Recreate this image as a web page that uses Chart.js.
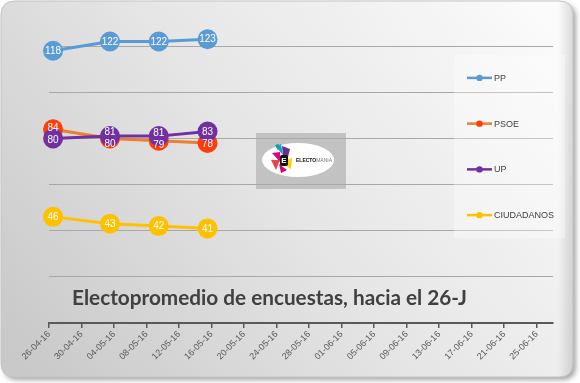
<!DOCTYPE html>
<html><head><meta charset="utf-8">
<script src="https://cdn.jsdelivr.net/npm/chart.js@4/dist/chart.umd.min.js"></script>
<style>html,body{margin:0;padding:0;background:#fff;overflow:hidden}canvas{display:block}</style>
</head><body>
<canvas id="c" width="580" height="383"></canvas>
<script>
// ---- data ----
const pollDates = ['26-04-16', '03-05-16', '09-05-16', '15-05-16'];
const seriesNames = ['PP', 'PSOE', 'UP', 'CIUDADANOS'];
const ppSeats = [118, 122, 122, 123];
const psoeSeats = [84, 80, 79, 78];
const upSeats = [80, 81, 81, 83];
const csSeats = [46, 43, 42, 41];
const tickDates = ['26-04-16','30-04-16','04-05-16','08-05-16','12-05-16','16-05-16','20-05-16','24-05-16',
                   '28-05-16','01-06-16','05-06-16','09-06-16','13-06-16','17-06-16','21-06-16','25-06-16'];
const axisStart = '26-04-16';
const axisEnd = '27-06-16';
const yTicks = [0, 20, 40, 60, 80, 100, 120, 140];
const chartTitle = 'Electopromedio de encuestas, hacia el 26-J';

// ---- helpers ----
const parseDate = s => { const [d, m, y] = s.split('-').map(Number); return Date.UTC(2000 + y, m - 1, d); };
const dayIndex = s => (parseDate(s) - parseDate(axisStart)) / 864e5;
// dates are plotted centred within their day (Excel "between tick marks")
const toPoints = vals => pollDates.map((d, i) => ({ x: dayIndex(d) + 0.5, y: vals[i] }));

const lineColors = ['#5B9BD5', '#ED7D31', '#7030A0', '#FFC000'];
const markColors = ['#5B9BD5', '#FF3D0A', '#7030A0', '#FFC000'];
const allVals = [ppSeats, psoeSeats, upSeats, csSeats];
const drawOrder = [1, 2, 0, 3];

function rr(ctx, x, y, w, h, r) {
  ctx.beginPath();
  ctx.moveTo(x + r, y); ctx.lineTo(x + w - r, y); ctx.quadraticCurveTo(x + w, y, x + w, y + r);
  ctx.lineTo(x + w, y + h - r); ctx.quadraticCurveTo(x + w, y + h, x + w - r, y + h);
  ctx.lineTo(x + r, y + h); ctx.quadraticCurveTo(x, y + h, x, y + h - r);
  ctx.lineTo(x, y + r); ctx.quadraticCurveTo(x, y, x + r, y); ctx.closePath();
}
function tri(ctx, pts, col) {
  ctx.beginPath(); ctx.moveTo(pts[0], pts[1]);
  for (let i = 2; i < pts.length; i += 2) ctx.lineTo(pts[i], pts[i + 1]);
  ctx.closePath(); ctx.fillStyle = col; ctx.fill();
}

const framePlugin = {
  id: 'frame',
  beforeDraw(chart) {
    const ctx = chart.ctx; ctx.save();
    ctx.fillStyle = '#ffffff'; ctx.fillRect(0, 0, chart.width, chart.height);
    ctx.shadowColor = 'rgba(0,0,0,0.35)'; ctx.shadowBlur = 5; ctx.shadowOffsetX = 3; ctx.shadowOffsetY = 3;
    rr(ctx, 1, 1, 572, 376, 14);
    const g = ctx.createLinearGradient(540, 0, 40, 383);
    g.addColorStop(0, '#fbfbfb'); g.addColorStop(0.5, '#e6e6e6'); g.addColorStop(1, '#c9c9c9');
    ctx.fillStyle = g; ctx.fill();
    ctx.shadowColor = 'transparent';
    ctx.save(); ctx.clip();
    const g2 = ctx.createLinearGradient(558, 0, 574, 0);
    g2.addColorStop(0, 'rgba(0,0,0,0)'); g2.addColorStop(1, 'rgba(0,0,0,0.14)');
    ctx.fillStyle = g2; ctx.fillRect(555, 0, 20, 383);
    ctx.restore();
    ctx.strokeStyle = '#c4c4c4'; ctx.lineWidth = 1; rr(ctx, 1, 1, 572, 376, 14); ctx.stroke();
    // logo picture
    ctx.fillStyle = '#c2c2c2'; ctx.fillRect(256, 133, 90, 56);
    ctx.beginPath(); ctx.ellipse(298, 160, 36, 17, 0, 0, Math.PI * 2); ctx.fillStyle = '#ffffff'; ctx.fill();
    tri(ctx, [276,147, 281,144, 283,155], '#1E9BD7');
    tri(ctx, [282,146, 290,149, 288,157, 283,155], '#6A2C91');
    tri(ctx, [272,153, 280,152, 280,162], '#E6007E');
    tri(ctx, [271,160, 280,160, 276,170], '#E8434B');
    tri(ctx, [279,164, 287,170, 281,173], '#D6006F');
    tri(ctx, [286,160, 292,158, 291,169, 286,166], '#FFD400');
    tri(ctx, [275,145, 279,144, 278,150], '#00A99D');
    ctx.fillStyle = '#111'; rr(ctx, 280, 155, 8, 11, 2); ctx.fill();
    ctx.fillStyle = '#fff'; ctx.font = 'bold 8px "Liberation Sans"'; ctx.textAlign = 'center'; ctx.textBaseline = 'middle';
    ctx.fillText('E', 284, 160.5);
    ctx.textAlign = 'left'; ctx.font = 'bold 5px "Liberation Sans"'; ctx.fillStyle = '#111';
    ctx.fillText('ELECTO', 296, 161);
    const w = ctx.measureText('ELECTO').width;
    ctx.font = '5px "Liberation Sans"'; ctx.fillStyle = '#777'; ctx.fillText('MANIA', 296 + w, 161);
    ctx.restore();
  }
};

const labelPlugin = {
  id: 'valueLabels',
  afterDatasetsDraw(chart) {
    const ctx = chart.ctx; ctx.save();
    ctx.font = '10px "Liberation Sans"'; ctx.fillStyle = '#ffffff';
    ctx.textAlign = 'center'; ctx.textBaseline = 'middle';
    const n = pollDates.length;
    for (let i = 0; i < n; i++) {
      const items = chart.data.datasets.map((ds, di) => {
        const el = chart.getDatasetMeta(di).data[i];
        return { x: el.x, y: el.y, text: String(ds.data[i].y) };
      }).sort((a, b) => a.y - b.y);
      for (let k = 1; k < items.length; k++) {
        const a = items[k - 1], b = items[k];
        if (b.y - a.y < 12) { const m = (a.y + b.y) / 2; a.y = m - 6; b.y = m + 6; }
      }
      items.forEach(it => ctx.fillText(it.text, it.x, it.y + 0.5));
    }
    ctx.restore();
  }
};

const legendPlugin = {
  id: 'boxLegend',
  afterDatasetsDraw(chart) {
    const ctx = chart.ctx; ctx.save();
    const bx = 454, by = 55, bw = 111, bh = 183;
    ctx.fillStyle = 'rgba(255,255,255,0.32)'; ctx.fillRect(bx, by, bw, bh);
    ctx.font = '9px "Liberation Sans"'; ctx.textBaseline = 'middle'; ctx.textAlign = 'left';
    chart.data.datasets.forEach((ds, i) => {
      const y = by + (i + 0.5) * bh / 4;
      ctx.strokeStyle = ds.borderColor; ctx.lineWidth = 2.5;
      ctx.beginPath(); ctx.moveTo(467, y); ctx.lineTo(492, y); ctx.stroke();
      ctx.beginPath(); ctx.arc(479.5, y, 3.2, 0, Math.PI * 2); ctx.fillStyle = ds.pointBackgroundColor; ctx.fill();
      ctx.fillStyle = '#404040'; ctx.fillText(ds.label, 494, y + 0.5);
    });
    ctx.restore();
  }
};

const titlePlugin = {
  id: 'inlineTitle',
  afterDraw(chart) {
    const ctx = chart.ctx; ctx.save();
    let size = 19;
    ctx.font = `bold ${size}px Lato`;
    const w = ctx.measureText(chartTitle).width;
    size = size * 395 / w;
    ctx.font = `bold ${size}px Lato`;
    ctx.fillStyle = '#404040'; ctx.textAlign = 'center'; ctx.textBaseline = 'alphabetic';
    ctx.fillText(chartTitle, 269.5, 305);
    ctx.restore();
  }
};

const datasets = seriesNames.map((name, i) => ({
  label: name,
  data: toPoints(allVals[i]),
  borderColor: lineColors[i],
  backgroundColor: lineColors[i],
  pointBackgroundColor: markColors[i],
  pointBorderColor: markColors[i],
  pointBorderWidth: 0,
  pointRadius: 10,
  borderWidth: 3,
  tension: 0,
  order: drawOrder[i],
  clip: false
}));

new Chart(document.getElementById('c'), {
  type: 'line',
  data: { datasets },
  options: {
    responsive: false,
    animation: false,
    devicePixelRatio: 1,
    layout: { autoPadding: false, padding: { left: 49, right: 27, top: 0, bottom: 0 } },
    plugins: { legend: { display: false }, tooltip: { enabled: false }, title: { display: false } },
    scales: {
      x: {
        type: 'linear',
        min: dayIndex(axisStart),
        max: dayIndex(axisEnd),
        afterBuildTicks: s => { s.ticks = tickDates.map(d => ({ value: dayIndex(d) })); },
        afterFit: s => { s.height = 60; },
        ticks: {
          autoSkip: false, minRotation: 45, maxRotation: 45, padding: 1,
          color: '#595959', font: { family: 'Liberation Sans', size: 9 },
          callback: (v, idx) => tickDates[idx]
        },
        grid: { drawOnChartArea: false, drawTicks: true, tickLength: 5, color: '#595959', lineWidth: 1.5 },
        border: { display: true, color: '#595959', width: 2 }
      },
      y: {
        min: 0, max: 140,
        afterBuildTicks: s => { s.ticks = yTicks.map(v => ({ value: v })); },
        afterFit: s => { s.width = 0; },
        ticks: { display: false },
        grid: {
          drawTicks: false, lineWidth: 1,
          color: c => (c.tick && (c.tick.value === 0 || c.tick.value === 140)) ? 'rgba(0,0,0,0)' : '#a8a8a8'
        },
        border: { display: false }
      }
    }
  },
  plugins: [framePlugin, labelPlugin, legendPlugin, titlePlugin]
});
</script>
</body></html>
